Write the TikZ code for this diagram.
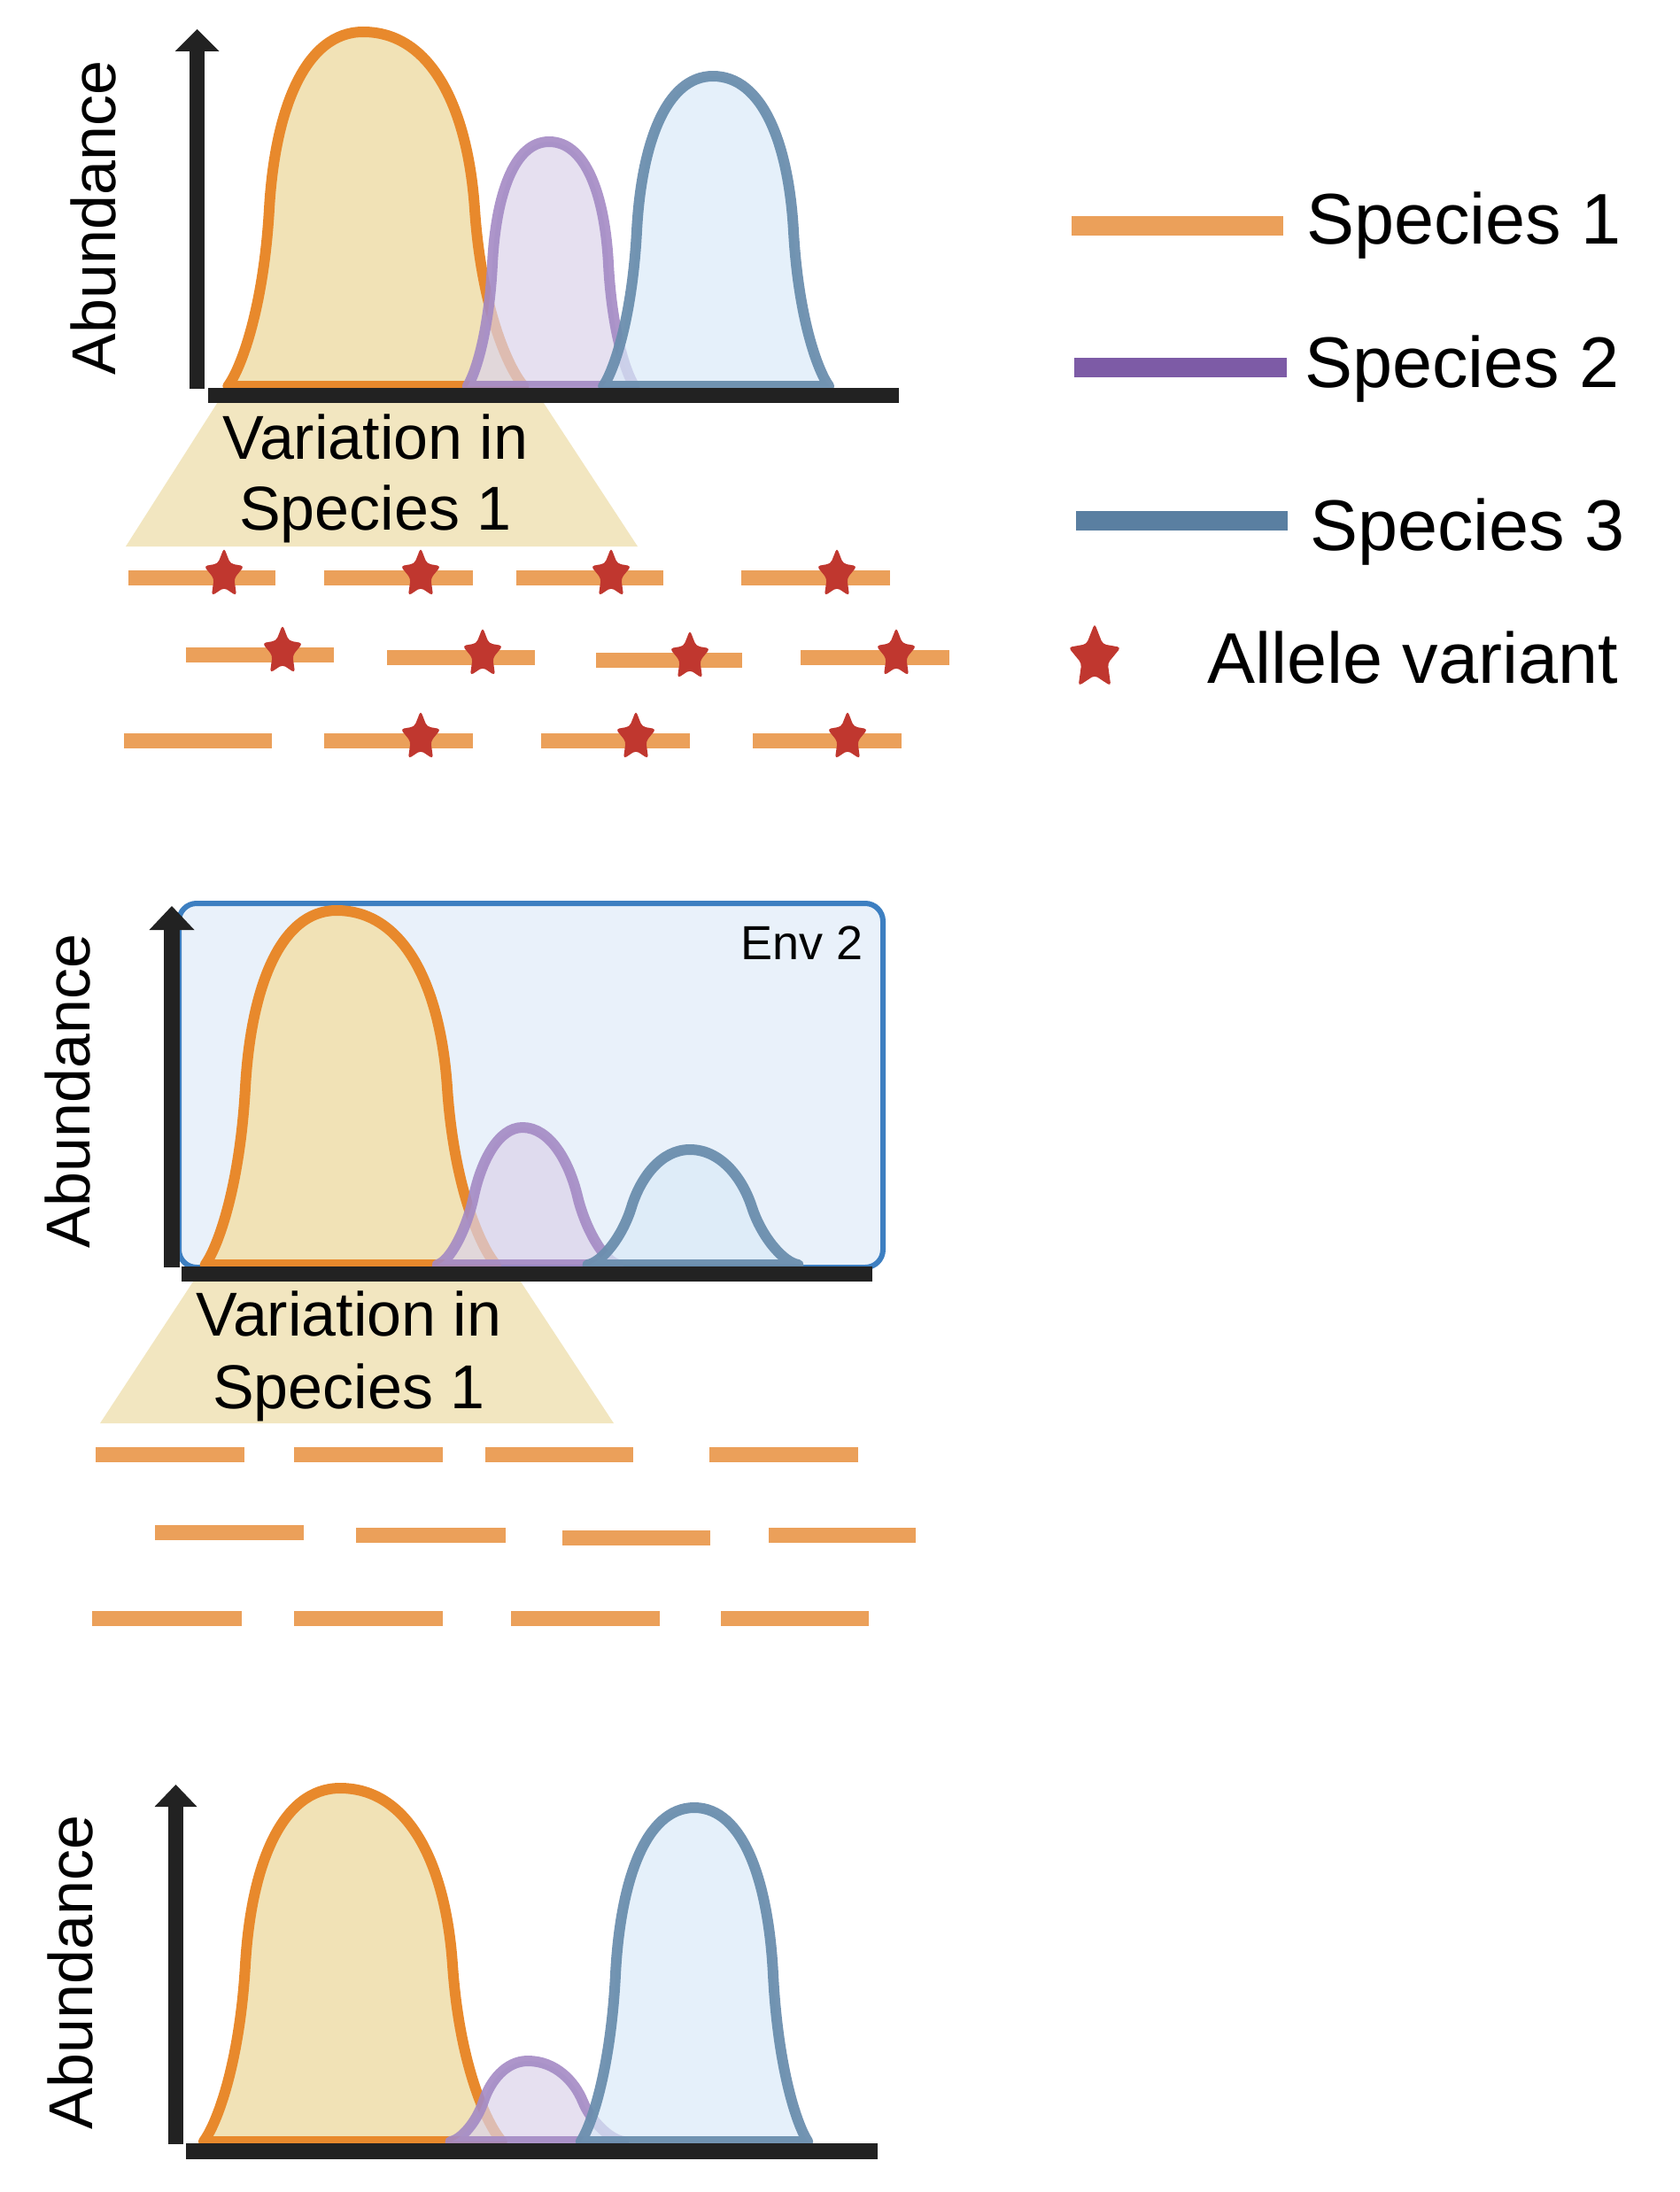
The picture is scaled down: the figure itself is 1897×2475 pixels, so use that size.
\documentclass[tikz,border=0pt]{standalone}
\usepackage{fontspec}
\setmainfont{Liberation Sans}
\definecolor{orline}{HTML}{E8892C}
\definecolor{orfill}{HTML}{F1E2B6}
\definecolor{puline}{HTML}{A48AC4}
\definecolor{pufill}{HTML}{DBD3EA}
\definecolor{blline}{HTML}{6B8EAE}
\definecolor{blfill}{HTML}{DAEAF8}
\definecolor{axcol}{HTML}{222222}
\definecolor{trapcol}{HTML}{F2E6C0}
\definecolor{barcol}{HTML}{EBA05A}
\definecolor{starcol}{HTML}{C0372F}
\definecolor{envline}{HTML}{3D7FC1}
\definecolor{envfill}{HTML}{E9F1FA}
\definecolor{legor}{HTML}{EBA05A}
\definecolor{legpu}{HTML}{7D5BA6}
\definecolor{legbl}{HTML}{5A7FA1}

% tall bump: c, base, H, wl, wr, style
\newcommand\tallbump[6]{%
 \path[#6] ({#1-1.44*#4},{#2})
  .. controls ({#1-1.3*#4},{#2-0.05*#3}) and ({#1-1.06*#4},{#2-0.22*#3}) .. ({#1-#4},{#2-0.5*#3})
  .. controls ({#1-0.94*#4},{#2-0.78*#3}) and ({#1-0.62*#4},{#2-#3}) .. ({#1},{#2-#3})
  .. controls ({#1+0.62*#5},{#2-#3}) and ({#1+0.94*#5},{#2-0.78*#3}) .. ({#1+#5},{#2-0.5*#3})
  .. controls ({#1+1.06*#5},{#2-0.22*#3}) and ({#1+1.3*#5},{#2-0.05*#3}) .. ({#1+1.44*#5},{#2})
  -- cycle;}
% small bump
\newcommand\smallbump[6]{%
 \path[#6] ({#1-1.75*#4},{#2})
  .. controls ({#1-1.5*#4},{#2-0.02*#3}) and ({#1-1.15*#4},{#2-0.25*#3}) .. ({#1-#4},{#2-0.5*#3})
  .. controls ({#1-0.85*#4},{#2-0.75*#3}) and ({#1-0.5*#4},{#2-#3}) .. ({#1},{#2-#3})
  .. controls ({#1+0.5*#5},{#2-#3}) and ({#1+0.85*#5},{#2-0.75*#3}) .. ({#1+#5},{#2-0.5*#3})
  .. controls ({#1+1.15*#5},{#2-0.25*#3}) and ({#1+1.5*#5},{#2-0.02*#3}) .. ({#1+1.75*#5},{#2})
  -- cycle;}

\tikzset{
 orbump/.style={fill=orfill, draw=orline, line width=12pt, line join=round},
 pubump/.style={fill=pufill, fill opacity=0.7, draw=puline, draw opacity=0.9, line width=12pt, line join=round},
 blbump/.style={fill=blfill, fill opacity=0.7, draw=blline, draw opacity=0.95, line width=12pt, line join=round},
 axisline/.style={draw=axcol, line width=17pt},
 axhead/.style={fill=axcol},
 trap/.style={fill=trapcol},
 seg/.style={draw=barcol, line width=17pt},
 lbl/.style={font=\fontsize{70pt}{80pt}\selectfont, inner sep=0pt},
 leglbl/.style={font=\fontsize{81pt}{95pt}\selectfont, inner sep=0pt, anchor=base west},
 legline/.style={line width=22pt},
 allele/.pic={\fill[starcol, rounded corners=4pt] (0,-30) -- (7.05,-12.1) -- (22.8,-9.3) -- (11.4,4.6) -- (14.1,24.3) -- (0,15) -- (-14.1,24.3) -- (-11.4,4.6) -- (-22.8,-9.3) -- (-7.05,-12.1) -- cycle;}
}

\begin{document}
\begin{tikzpicture}[x=1pt,y=-1pt]
\useasboundingbox (0,0) rectangle (1897,2475);

% ================= Panel 1 =================
\fill[trap] (251,446) -- (608,446) -- (720,617) -- (142,617) -- cycle;
\tallbump{410}{436}{400}{106}{126}{orbump}
\tallbump{620}{436}{276}{64}{67}{pubump}
\tallbump{805}{436}{350}{86}{91}{blbump}
\draw[axisline] (222.5,439) -- (222.5,57);
\fill[axhead] (197.5,58) -- (222.5,33) -- (247.5,58) -- cycle;
\draw[axisline] (235,446.5) -- (1015,446.5);
\node[lbl, rotate=90, anchor=base] (ab1) at (130,246) {Abundance};
\node[lbl, anchor=base] (var1) at (424,518) {Variation in};
\node[lbl, anchor=base] (sp1) at (424,598) {Species 1};

% rows of segments with alleles
\draw[seg] (145,652) -- (311,652);
\draw[seg] (366,652) -- (534,652);
\draw[seg] (583,652) -- (749,652);
\draw[seg] (837,652) -- (1005,652);
\pic at (253,648.5) {allele};
\pic at (475,648.5) {allele};
\pic at (690,648.5) {allele};
\pic at (945,648.5) {allele};

\draw[seg] (210,739) -- (377,739);
\draw[seg] (437,742) -- (604,742);
\draw[seg] (673,745) -- (838,745);
\draw[seg] (904,742) -- (1072,742);
\pic at (319,735.5) {allele};
\pic at (545,738.5) {allele};
\pic at (779,741.5) {allele};
\pic at (1012,738.5) {allele};

\draw[seg] (140,836) -- (307,836);
\draw[seg] (366,836) -- (534,836);
\draw[seg] (611,836) -- (779,836);
\draw[seg] (850,836) -- (1018,836);
\pic at (475,832.5) {allele};
\pic at (718,832.5) {allele};
\pic at (957,832.5) {allele};

% ================= Legend =================
\draw[legline, legor] (1210,255) -- (1449,255);
\draw[legline, legpu] (1213,415) -- (1453,415);
\draw[legline, legbl] (1215,588) -- (1454,588);
\node[leglbl] (l1) at (1475,275) {Species 1};
\node[leglbl] (l2) at (1473,437) {Species 2};
\node[leglbl] (l3) at (1479,621) {Species 3};
\pic[scale=1.3] at (1236,743) {allele};
\node[leglbl] (l4) at (1363,771) {Allele variant};

% ================= Panel 2 =================
\draw[draw=envline, fill=envfill, line width=6pt, rounded corners=20pt] (202,1020) rectangle (997,1431);
\node[font=\fontsize{54pt}{60pt}\selectfont, inner sep=0pt, anchor=base east] (env) at (975,1083) {Env 2};
\fill[trap] (224,1438) -- (582,1438) -- (693,1607) -- (113,1607) -- cycle;
\tallbump{380}{1428}{400}{103}{125}{orbump}
\smallbump{590}{1428}{155}{55}{62}{pubump}
\smallbump{779}{1428}{130}{66}{70}{blbump}
\draw[axisline, line width=18pt] (194,1431) -- (194,1049);
\fill[axhead] (168.5,1050) -- (194,1023) -- (219.5,1050) -- cycle;
\draw[axisline] (205,1438) -- (985,1438);
\node[lbl, rotate=90, anchor=base] (ab2) at (101,1232) {Abundance};
\node[lbl, anchor=base] (var2) at (394,1508) {Variation in};
\node[lbl, anchor=base] (sp2) at (394,1590) {Species 1};

\draw[seg] (108,1642) -- (276,1642);
\draw[seg] (332,1642) -- (500,1642);
\draw[seg] (548,1642) -- (715,1642);
\draw[seg] (801,1642) -- (969,1642);
\draw[seg] (175,1730) -- (343,1730);
\draw[seg] (402,1733) -- (571,1733);
\draw[seg] (635,1736) -- (802,1736);
\draw[seg] (868,1733) -- (1034,1733);
\draw[seg] (104,1827) -- (273,1827);
\draw[seg] (332,1827) -- (500,1827);
\draw[seg] (577,1827) -- (745,1827);
\draw[seg] (814,1827) -- (981,1827);

% ================= Panel 3 =================
\tallbump{384}{2418}{399}{107}{127}{orbump}
\smallbump{596}{2418}{91}{50}{62}{pubump}
\tallbump{784}{2418}{377}{89}{89}{blbump}
\draw[axisline] (198.5,2421) -- (198.5,2039);
\fill[axhead] (174.5,2040) -- (198.5,2015) -- (222.5,2040) -- cycle;
\draw[axisline, line width=18pt] (210,2429) -- (991,2429);
\node[lbl, rotate=90, anchor=base] (ab3) at (104,2227) {Abundance};
\end{tikzpicture}
\end{document}
